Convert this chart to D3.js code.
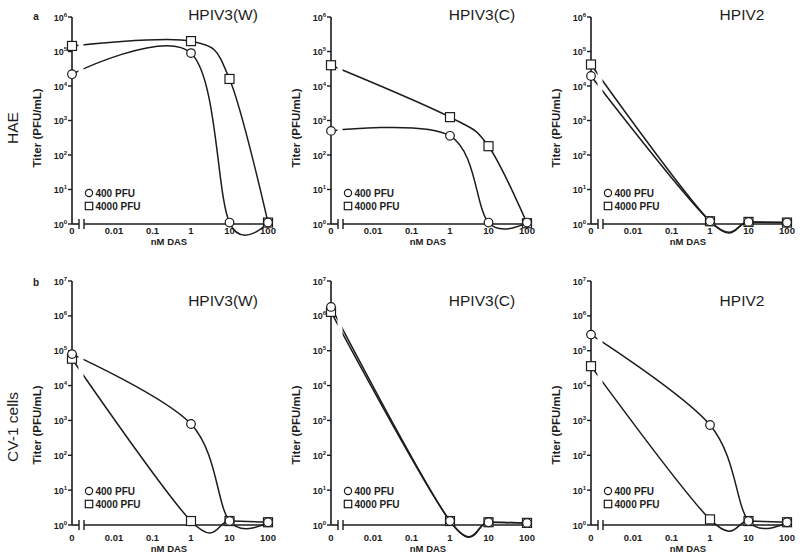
<!DOCTYPE html>
<html><head><meta charset="utf-8">
<script src="https://cdn.jsdelivr.net/npm/d3@7"></script>
<style>
html,body{margin:0;padding:0;background:#fff;}
svg{display:block;font-family:"Liberation Sans",Arial,sans-serif;}
</style></head>
<body><svg id="chart" width="800" height="560"></svg>
<script>
// ---------- data ----------
const virusTitles = ["HPIV3(W)", "HPIV3(C)", "HPIV2"];
const rowLabels = ["HAE", "CV-1 cells"];
const panelLetters = ["a", "b"];
const doses = [0, 1, 10, 100];                 // nM DAS
const xTickValues = [0, 0.01, 0.1, 1, 10, 100];
const xTickLabels = ["0", "0.01", "0.1", "1", "10", "100"];
const seriesNames = ["400 PFU", "4000 PFU"];

// HAE (row a), titers per dose for each virus
const hae400  = [[2.2e4, 9.0e4, 1.1, 1.1], [500, 360, 1.1, 1.1], [1.95e4, 1.2, 1.15, 1.1]];
const hae4000 = [[1.45e5, 2.0e5, 1.6e4, 1.1], [4.0e4, 1.25e3, 180, 1.05], [4.2e4, 1.2, 1.15, 1.1]];
// CV-1 cells (row b)
const cv400  = [[8.0e4, 790, 1.3, 1.2], [1.8e6, 1.3, 1.2, 1.15], [2.9e5, 740, 1.3, 1.2]];
const cv4000 = [[5.9e4, 1.3, 1.3, 1.2], [1.3e6, 1.3, 1.2, 1.15], [3.6e4, 1.45, 1.3, 1.2]];

const rowMaxExp = [6, 7];

// ---------- layout ----------
const colX = [72, 331, 591];
const rows = [
  {yTop: 17, yBottom: 224, s400: hae400, s4000: hae4000, titleY: 19.5, legY: 193, tickY: 233.5, nmY: 245, titerY: 128, letterY: 20, rowLabY: 128},
  {yTop: 281, yBottom: 525, s400: cv400, s4000: cv4000, titleY: 306, legY: 491, tickY: 540.5, nmY: 552, titerY: 425, letterY: 286, rowLabY: 427}
];
const ink = "#1c1c1c";

const svg = d3.select("#chart");
const defs = svg.append("defs");
const clip = defs.append("clipPath").attr("id", "brk");
clip.append("rect").attr("x", -30).attr("y", 0).attr("width", 36.5).attr("height", 560);
clip.append("rect").attr("x", 11.5).attr("y", 0).attr("width", 300).attr("height", 560);

const x = d3.scaleLog().domain([0.01, 100]).range([42, 196]);
const xp = v => v === 0 ? 0 : x(v);

rows.forEach((r, ri) => {
  const y = d3.scaleLog().domain([1, Math.pow(10, rowMaxExp[ri])]).range([r.yBottom, r.yTop]);
  const yTicks = d3.range(0, rowMaxExp[ri] + 1).map(e => Math.pow(10, e));

  // row label
  svg.append("text").attr("transform", `translate(18,${r.rowLabY}) rotate(-90)`)
    .attr("text-anchor", "middle").attr("font-size", 15.5).attr("fill", ink).text(rowLabels[ri]);
  svg.append("text").attr("x", 36).attr("y", r.letterY).attr("text-anchor", "middle")
    .attr("font-size", 10).attr("font-weight", "bold").attr("fill", ink).text(panelLetters[ri]);

  colX.forEach((x0, ci) => {
    const g = svg.append("g").attr("transform", `translate(${x0},0)`);

    // y axis
    g.append("line").attr("x1", 0).attr("x2", 0).attr("y1", r.yTop).attr("y2", r.yBottom)
      .attr("stroke", ink).attr("stroke-width", 1.6);
    yTicks.forEach((t, i) => {
      g.append("line").attr("x1", -4).attr("x2", 0).attr("y1", y(t)).attr("y2", y(t))
        .attr("stroke", ink).attr("stroke-width", 1.4);
      const tx = g.append("text").attr("x", -5).attr("y", y(t) + 3.5).attr("text-anchor", "end")
        .attr("font-size", 9).attr("font-weight", "bold").attr("fill", ink);
      tx.append("tspan").text("10");
      tx.append("tspan").attr("dy", -4).attr("font-size", 6).text(String(i));
    });
    // y title
    g.append("text").attr("transform", `translate(-31,${r.titerY}) rotate(-90)`)
      .attr("text-anchor", "middle").attr("font-size", 11.5).attr("font-weight", "bold")
      .attr("fill", ink).text("Titer (PFU/mL)");

    // x axis with break
    const ay = r.yBottom;
    g.append("line").attr("x1", 0).attr("x2", 7).attr("y1", ay).attr("y2", ay).attr("stroke", ink).attr("stroke-width", 1.6);
    g.append("line").attr("x1", 12).attr("x2", 199).attr("y1", ay).attr("y2", ay).attr("stroke", ink).attr("stroke-width", 1.6);
    [7, 12].forEach(bx => g.append("line").attr("x1", bx).attr("x2", bx).attr("y1", ay - 5).attr("y2", ay + 5)
      .attr("stroke", ink).attr("stroke-width", 1.4));
    xTickValues.forEach((v, i) => {
      g.append("text").attr("x", xp(v)).attr("y", r.tickY).attr("text-anchor", "middle")
        .attr("font-size", 9.5).attr("font-weight", "bold").attr("fill", ink).text(xTickLabels[i]);
    });
    g.append("text").attr("x", 97).attr("y", r.nmY).attr("text-anchor", "middle")
      .attr("font-size", 9.5).attr("font-weight", "bold").attr("fill", ink).text("nM DAS");

    // title
    g.append("text").attr("x", 151).attr("y", r.titleY).attr("text-anchor", "middle")
      .attr("font-size", 15.5).attr("fill", ink).text(virusTitles[ci]);

    // curves (Excel-like smoothed lines)
    const line = d3.line().x(d => xp(d[0])).y(d => y(d[1])).curve(d3.curveCardinal.tension(0));
    const s400 = doses.map((d, i) => [d, r.s400[ci][i]]);
    const s4000 = doses.map((d, i) => [d, r.s4000[ci][i]]);
    [s400, s4000].forEach(s => {
      g.append("path").attr("d", line(s)).attr("fill", "none").attr("stroke", ink)
        .attr("stroke-width", 1.5).attr("clip-path", "url(#brk)");
    });
    // markers
    s4000.forEach(d => g.append("rect").attr("x", xp(d[0]) - 4.5).attr("y", y(d[1]) - 4.5)
      .attr("width", 9).attr("height", 9).attr("fill", "#fff").attr("stroke", ink).attr("stroke-width", 1.2));
    s400.forEach(d => g.append("circle").attr("cx", xp(d[0])).attr("cy", y(d[1])).attr("r", 4.3)
      .attr("fill", "#fff").attr("stroke", ink).attr("stroke-width", 1.2));

    // legend
    g.append("circle").attr("cx", 17).attr("cy", r.legY).attr("r", 3.6)
      .attr("fill", "#fff").attr("stroke", ink).attr("stroke-width", 1.2);
    g.append("rect").attr("x", 13.3).attr("y", r.legY + 13 - 3.7).attr("width", 7.4).attr("height", 7.4)
      .attr("fill", "#fff").attr("stroke", ink).attr("stroke-width", 1.2);
    seriesNames.forEach((n, i) => g.append("text").attr("x", 23.5).attr("y", r.legY + 3.6 + i * 13)
      .attr("font-size", 10).attr("font-weight", "bold").attr("fill", ink).text(n));
  });
});
</script></body></html>
